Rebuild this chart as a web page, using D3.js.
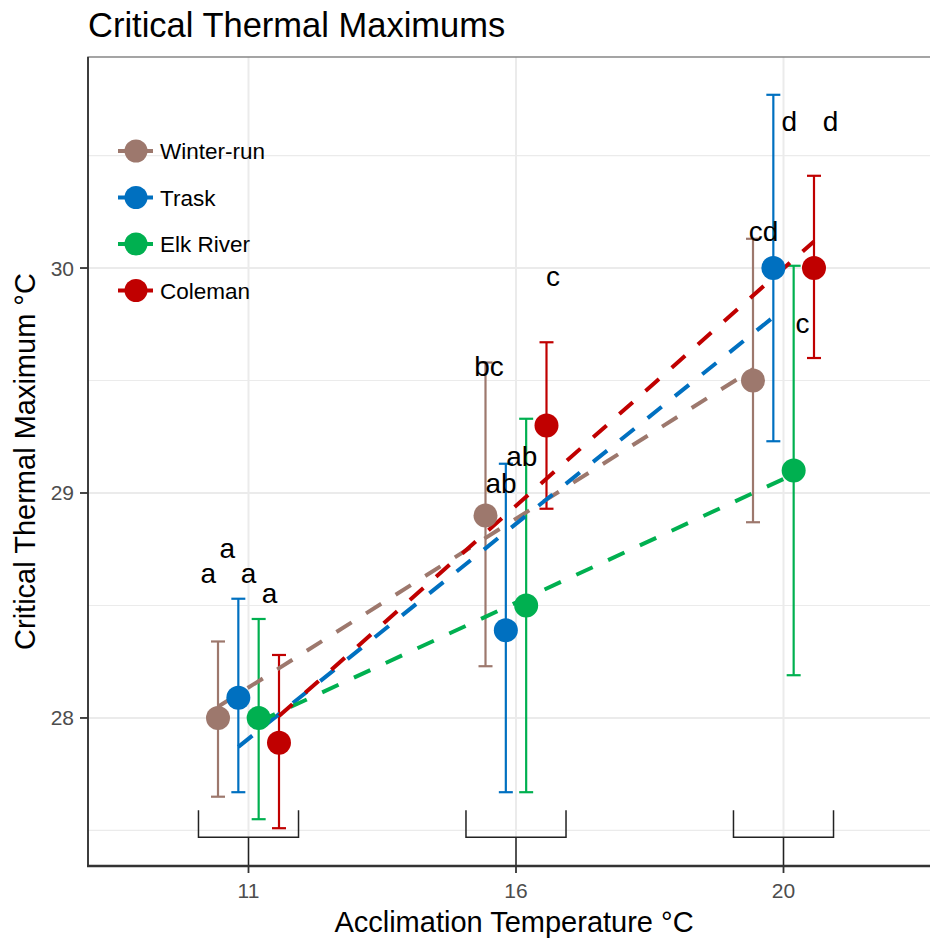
<!DOCTYPE html>
<html>
<head>
<meta charset="utf-8">
<script src="https://cdn.jsdelivr.net/npm/d3@7"></script>
<style>
  body { margin: 0; background: #fff; }
  svg { font-family: "Liberation Sans", Arial, sans-serif; }
</style>
</head>
<body>
<div id="chart"></div>
<script>
// Datos: CTmax medio por población y temperatura de aclimatación
const temps = ['11', '16', '20'];
const populations = ['Winter-run', 'Trask', 'Elk River', 'Coleman'];
const popColors = ['#9d786d', '#0070c0', '#00b050', '#c00000'];

const ctmMean = [
    [28.00, 28.90, 29.50],
    [28.09, 28.39, 30.00],
    [28.00, 28.50, 29.10],
    [27.89, 29.30, 30.00]
];
const ctmLow = [
    [27.65, 28.23, 28.87],
    [27.67, 27.67, 29.23],
    [27.55, 27.67, 28.19],
    [27.51, 28.93, 29.60]
];
const ctmHigh = [
    [28.34, 29.58, 30.13],
    [28.53, 29.13, 30.77],
    [28.44, 29.33, 30.01],
    [28.28, 29.67, 30.41]
];
// Letras de significancia (texto, altura y desplazamiento en unidades de categoría)
const sigLetters = [
    ['a', 'bc', 'cd'],
    ['a', 'ab', 'd'],
    ['a', 'ab', 'c'],
    ['a', 'c', 'd']
];
const sigY = [
    [28.60, 29.52, 30.12],
    [28.71, 29.00, 30.61],
    [28.60, 29.12, 29.71],
    [28.51, 29.92, 30.61]
];
const sigDx = [
    [-0.150, -0.101, -0.075],
    [-0.079, -0.056, 0.022],
    [0.000, 0.022, 0.071],
    [0.079, 0.138, 0.176]
];
const yMajor = [28, 29, 30];
const yMinor = [27.5, 28.5, 29.5, 30.5];
const bracketTop = 27.59, bracketBar = 27.47;

const W = 930, H = 940;
const panel = { left: 88, right: 944, top: 57, bottom: 866 };

const svg = d3.select('#chart').append('svg')
    .attr('width', W)
    .attr('height', H);

const x = d3.scalePoint().domain(temps).range([panel.left, panel.right]).padding(0.6);
const step = x.step();
const y = d3.scaleLinear().domain([27.342, 30.938]).range([panel.bottom, panel.top]);
const dodge = i => (i - 1.5) * 0.076 * step;

svg.append('clipPath').attr('id', 'clip')
    .append('rect')
    .attr('x', panel.left).attr('y', panel.top)
    .attr('width', panel.right - panel.left).attr('height', panel.bottom - panel.top);

const g = svg.append('g').attr('clip-path', 'url(#clip)');

// Grid
g.selectAll('line.minor')
    .data(yMinor).enter().append('line')
    .attr('x1', panel.left).attr('x2', panel.right)
    .attr('y1', d => y(d)).attr('y2', d => y(d))
    .attr('stroke', '#ebebeb').attr('stroke-width', 1.2);
g.selectAll('line.major')
    .data(yMajor).enter().append('line')
    .attr('x1', panel.left).attr('x2', panel.right)
    .attr('y1', d => y(d)).attr('y2', d => y(d))
    .attr('stroke', '#ebebeb').attr('stroke-width', 2);
g.selectAll('line.vgrid')
    .data(temps).enter().append('line')
    .attr('x1', d => x(d)).attr('x2', d => x(d))
    .attr('y1', panel.top).attr('y2', panel.bottom)
    .attr('stroke', '#ebebeb').attr('stroke-width', 2);

// Corchetes inferiores
temps.forEach(t => {
    const cx = x(t), hw = 0.187 * step;
    g.append('path')
        .attr('d', `M${cx - hw},${y(bracketTop)} V${y(bracketBar)} H${cx + hw} V${y(bracketTop)} M${cx},${y(bracketBar)} V${panel.bottom}`)
        .attr('fill', 'none').attr('stroke', '#222').attr('stroke-width', 1.5);
});

// Barras de error
populations.forEach((p, i) => {
    temps.forEach((t, j) => {
        const cx = x(t) + dodge(i);
        const eg = g.append('g').attr('stroke', popColors[i]).attr('stroke-width', 2.2);
        eg.append('line').attr('x1', cx).attr('x2', cx).attr('y1', y(ctmLow[i][j])).attr('y2', y(ctmHigh[i][j]));
        eg.append('line').attr('x1', cx - 7).attr('x2', cx + 7).attr('y1', y(ctmLow[i][j])).attr('y2', y(ctmLow[i][j]));
        eg.append('line').attr('x1', cx - 7).attr('x2', cx + 7).attr('y1', y(ctmHigh[i][j])).attr('y2', y(ctmHigh[i][j]));
    });
});

// Rectas de regresión (lm sobre el índice de categoría)
populations.forEach((p, i) => {
    const xs = [0, 1, 2], ys = ctmMean[i];
    const mx = d3.mean(xs), my = d3.mean(ys);
    const slope = d3.sum(xs, (v, k) => (v - mx) * (ys[k] - my)) / d3.sum(xs, v => (v - mx) ** 2);
    const fit = v => my + slope * (v - mx);
    g.append('line')
        .attr('x1', x(temps[0]) + dodge(i)).attr('y1', y(fit(0)))
        .attr('x2', x(temps[2]) + dodge(i)).attr('y2', y(fit(2)))
        .attr('stroke', popColors[i]).attr('stroke-width', 4)
        .attr('stroke-dasharray', '18,17');
});

// Puntos
populations.forEach((p, i) => {
    g.selectAll(null)
        .data(temps).enter().append('circle')
        .attr('cx', (t) => x(t) + dodge(i))
        .attr('cy', (t, j) => y(ctmMean[i][j]))
        .attr('r', 12)
        .attr('fill', popColors[i]);
});

// Letras
populations.forEach((p, i) => {
    temps.forEach((t, j) => {
        g.append('text')
            .attr('x', x(t) + sigDx[i][j] * step)
            .attr('y', y(sigY[i][j]))
            .attr('text-anchor', 'middle')
            .attr('font-size', 28)
            .attr('fill', '#000')
            .text(sigLetters[i][j]);
    });
});

// Borde del panel y ejes
svg.append('rect')
    .attr('x', panel.left).attr('y', panel.top)
    .attr('width', panel.right - panel.left).attr('height', panel.bottom - panel.top)
    .attr('fill', 'none').attr('stroke', '#7f7f7f').attr('stroke-width', 1.4);
svg.append('line')
    .attr('x1', panel.left).attr('x2', panel.left).attr('y1', panel.top).attr('y2', panel.bottom + 1)
    .attr('stroke', '#333').attr('stroke-width', 1.8);
svg.append('line')
    .attr('x1', panel.left - 1).attr('x2', W).attr('y1', panel.bottom).attr('y2', panel.bottom)
    .attr('stroke', '#333').attr('stroke-width', 2.4);

// Ticks
svg.selectAll('line.xtick')
    .data(temps).enter().append('line')
    .attr('x1', d => x(d)).attr('x2', d => x(d))
    .attr('y1', panel.bottom).attr('y2', panel.bottom + 7)
    .attr('stroke', '#333').attr('stroke-width', 1.8);
svg.selectAll('text.xtick')
    .data(temps).enter().append('text')
    .attr('x', d => x(d)).attr('y', 898)
    .attr('text-anchor', 'middle').attr('font-size', 21).attr('fill', '#4d4d4d')
    .text(d => d);
svg.selectAll('line.ytick')
    .data(yMajor).enter().append('line')
    .attr('x1', panel.left - 8).attr('x2', panel.left)
    .attr('y1', d => y(d)).attr('y2', d => y(d))
    .attr('stroke', '#333').attr('stroke-width', 1.8);
svg.selectAll('text.ytick')
    .data(yMajor).enter().append('text')
    .attr('x', 74).attr('y', d => y(d) + 7.5)
    .attr('text-anchor', 'end').attr('font-size', 21).attr('fill', '#4d4d4d')
    .text(d => d);

// Títulos
svg.append('text')
    .attr('x', 88).attr('y', 37)
    .attr('font-size', 34.5).attr('fill', '#000')
    .text('Critical Thermal Maximums');
svg.append('text')
    .attr('x', 514).attr('y', 932)
    .attr('text-anchor', 'middle').attr('font-size', 29).attr('fill', '#000')
    .text('Acclimation Temperature °C');
svg.append('text')
    .attr('transform', `translate(35,${(panel.top + panel.bottom) / 2}) rotate(-90)`)
    .attr('text-anchor', 'middle').attr('font-size', 29).attr('fill', '#000')
    .text('Critical Thermal Maximum °C');

// Leyenda
const legend = svg.append('g');
populations.forEach((p, i) => {
    const ly = 151 + i * 46.5;
    legend.append('line')
        .attr('x1', 118).attr('x2', 153).attr('y1', ly).attr('y2', ly)
        .attr('stroke', popColors[i]).attr('stroke-width', 4);
    legend.append('circle')
        .attr('cx', 136).attr('cy', ly).attr('r', 11.5)
        .attr('fill', popColors[i]);
    legend.append('text')
        .attr('x', 160).attr('y', ly + 8)
        .attr('font-size', 22.5).attr('fill', '#000')
        .text(p);
});
</script>
</body>
</html>
